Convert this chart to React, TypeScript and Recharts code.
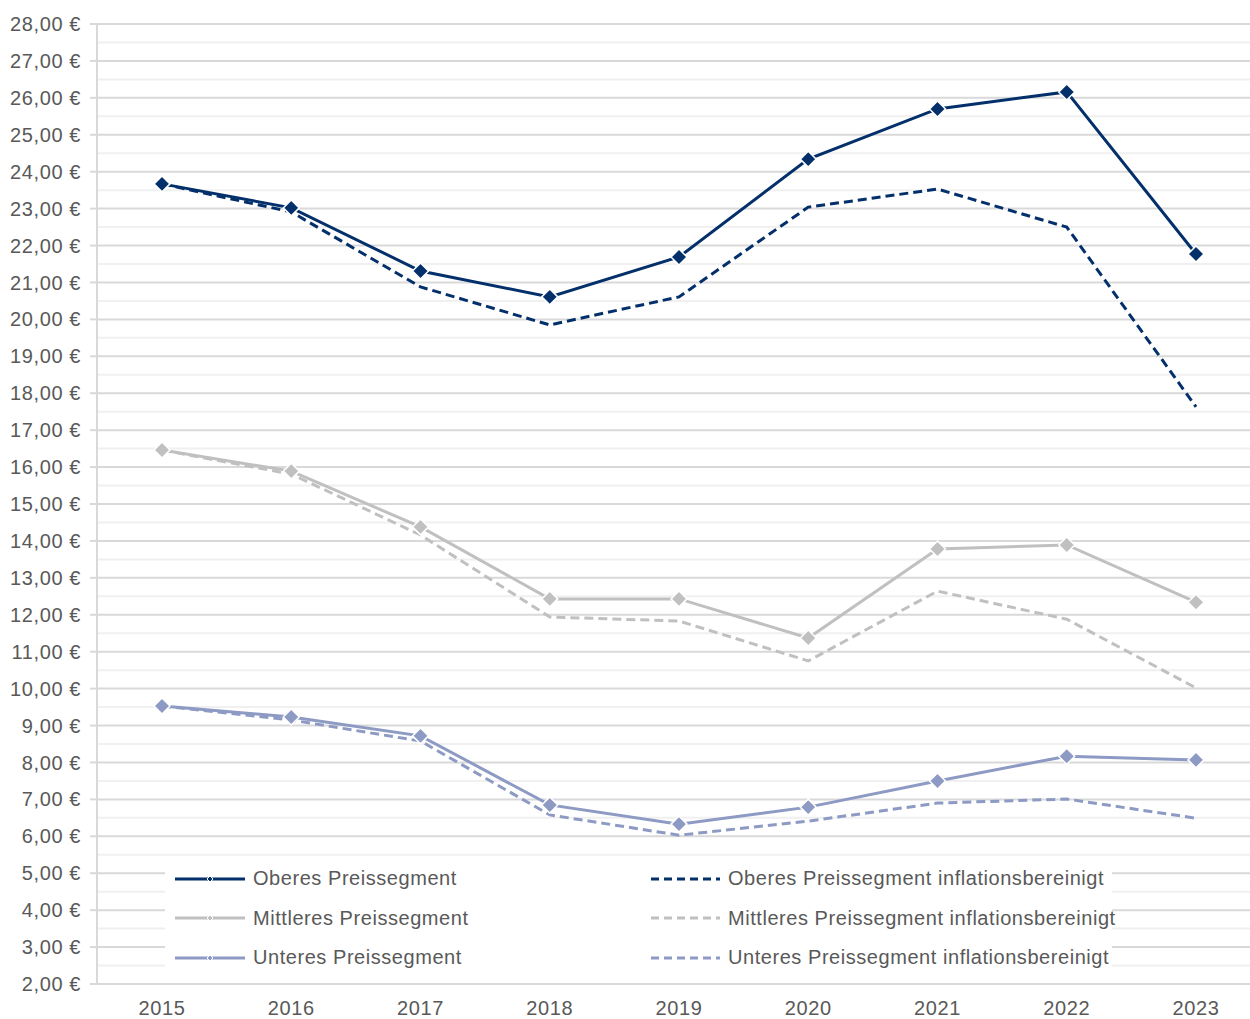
import React from "react"
import { LineChart, Line, XAxis, YAxis, CartesianGrid, ReferenceLine } from "recharts"

const YEARS = ["2015", "2016", "2017", "2018", "2019", "2020", "2021", "2022", "2023"]
const OBERES = [23.67, 23.02, 21.31, 20.61, 21.69, 24.34, 25.7, 26.16, 21.77]
const OBERES_INFL = [23.67, 22.91, 20.88, 19.85, 20.61, 23.04, 23.53, 22.5, 17.63]
const MITTLERES = [16.46, 15.89, 14.38, 12.43, 12.43, 11.37, 13.78, 13.89, 12.34]
const MITTLERES_INFL = [16.46, 15.81, 14.16, 11.94, 11.83, 10.75, 12.64, 11.88, 10.02]
const UNTERES = [9.53, 9.23, 8.72, 6.85, 6.33, 6.79, 7.5, 8.17, 8.07]
const UNTERES_INFL = [9.53, 9.15, 8.58, 6.58, 6.03, 6.41, 6.9, 7.01, 6.49]

const Y_TICKS = Array.from({ length: 27 }, (_, i) => 2 + i)
const MINOR_TICKS = Array.from({ length: 26 }, (_, i) => 2.5 + i)

const NAVY = "#03306a"
const GRAY = "#c0c0c0"
const BLUE = "#8d9ac3"
const TEXT = "#595959"
const FONT = "'Liberation Sans', Arial, sans-serif"

const data = YEARS.map((year, i) => ({
  year,
  oberes: OBERES[i],
  oberesInfl: OBERES_INFL[i],
  mittleres: MITTLERES[i],
  mittleresInfl: MITTLERES_INFL[i],
  unteres: UNTERES[i],
  unteresInfl: UNTERES_INFL[i],
}))

const SERIES = [
  { key: "oberes", name: "Oberes Preissegment", color: NAVY, dashed: false },
  { key: "oberesInfl", name: "Oberes Preissegment inflationsbereinigt", color: NAVY, dashed: true },
  { key: "mittleres", name: "Mittleres Preissegment", color: GRAY, dashed: false },
  { key: "mittleresInfl", name: "Mittleres Preissegment inflationsbereinigt", color: GRAY, dashed: true },
  { key: "unteres", name: "Unteres Preissegment", color: BLUE, dashed: false },
  { key: "unteresInfl", name: "Unteres Preissegment inflationsbereinigt", color: BLUE, dashed: true },
]

const fmt = (v: number) => v.toFixed(2).replace(".", ",") + " €"

const diamond = (color: string) => (props: any) => {
  const { cx, cy, index } = props
  if (cx == null || cy == null) return <g key={index} />
  const s = 8
  return (
    <path
      key={index}
      d={`M${cx},${cy - s} L${cx + s},${cy} L${cx},${cy + s} L${cx - s},${cy} Z`}
      fill={color}
      stroke="#ffffff"
      strokeWidth={1.5}
    />
  )
}

const LegendIcon = ({ color, dashed }: { color: string; dashed: boolean }) => (
  <svg width={70} height={10} style={{ marginRight: 8, flex: "none" }}>
    {dashed ? (
      <line x1={1} y1={5} x2={70} y2={5} stroke={color} strokeWidth={3} strokeDasharray="8 5" />
    ) : (
      <>
        <line x1={0} y1={5} x2={70} y2={5} stroke={color} strokeWidth={3} />
        <path d="M35,2 L38,5 L35,8 L32,5 Z" fill={color} stroke="#fff" strokeWidth={1} />
      </>
    )}
  </svg>
)

const ChartLegend = () => (
  <div
    style={{
      position: "absolute",
      left: 165,
      top: 859,
      width: 947,
      height: 118,
      display: "grid",
      gridTemplateColumns: "475px 472px",
      background: "#fff",
      fontFamily: FONT,
      fontSize: 20,
      letterSpacing: 0.55,
      color: TEXT,
    }}
  >
    {SERIES.map((s) => (
      <div key={s.key} style={{ display: "flex", alignItems: "center", height: 39.5, paddingLeft: 10 }}>
        <LegendIcon color={s.color} dashed={s.dashed} />
        <span style={{ whiteSpace: "nowrap" }}>{s.name}</span>
      </div>
    ))}
  </div>
)

const tickStyle = { fontSize: 20, fill: TEXT, letterSpacing: 0.6, fontFamily: FONT }

export default function App() {
  return (
    <div style={{ position: "relative", width: 1250, height: 1019, fontFamily: FONT, overflow: "hidden" }}>
      <style>{`body{margin:0}`}</style>
      <LineChart width={1250} height={1019} data={data} margin={{ top: 24, right: 0, bottom: 5, left: 0 }}>
        <CartesianGrid vertical={false} stroke="#d9d9d9" strokeWidth={2} />
        {MINOR_TICKS.map((t) => (
          <ReferenceLine key={t} y={t} stroke="#f0f0f0" strokeWidth={2} />
        ))}
        <XAxis
          dataKey="year"
          height={30}
          padding={{ left: 65, right: 54 }}
          axisLine={{ stroke: "#d9d9d9", strokeWidth: 2 }}
          tickLine={false}
          tickSize={6}
          tickMargin={11}
          tick={tickStyle}
        />
        <YAxis
          domain={[2, 28]}
          ticks={Y_TICKS}
          interval={0}
          width={97}
          tickFormatter={fmt}
          axisLine={{ stroke: "#d9d9d9", strokeWidth: 2 }}
          tickLine={{ stroke: "#d9d9d9", strokeWidth: 2 }}
          tickSize={7}
          tickMargin={9}
          tick={tickStyle}
        />
        {SERIES.map((s) => (
          <Line
            key={s.key}
            dataKey={s.key}
            name={s.name}
            stroke={s.color}
            strokeWidth={3}
            strokeDasharray={s.dashed ? "9 5" : undefined}
            dot={s.dashed ? false : diamond(s.color)}
            activeDot={false}
            isAnimationActive={false}
          />
        ))}
      </LineChart>
      <ChartLegend />
    </div>
  )
}
